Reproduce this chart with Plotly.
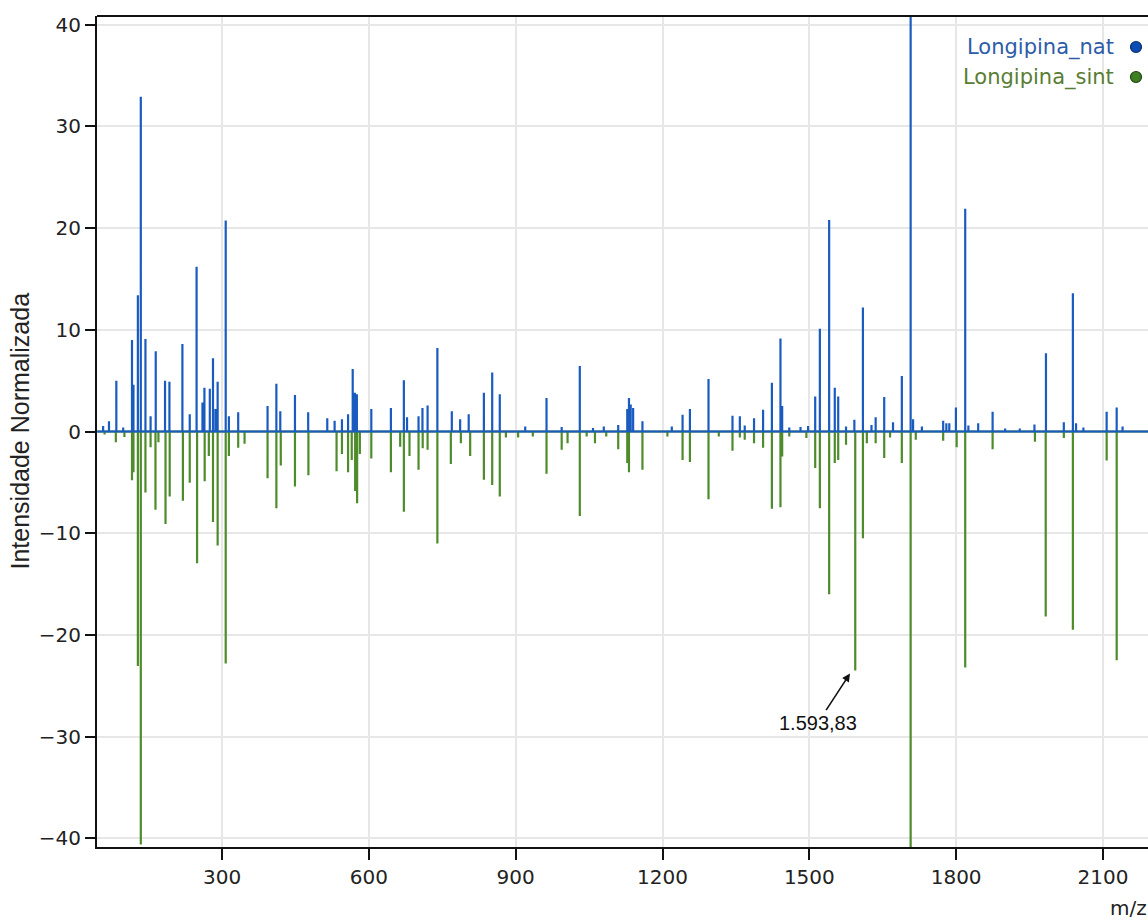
import plotly.graph_objects as go

# ---------------- data ----------------
mz_start, mz_end = 45, 2200

nat_mz = [57, 69, 84, 98, 116, 119, 128, 134, 143.5, 154, 164.5, 183.5, 192.5, 219, 234, 248, 260, 264, 275,
          281.5, 286.5, 291, 307.5, 314, 333, 393, 411, 419, 449, 476, 515, 530, 545, 557.5, 567, 571.5, 575.5,
          605, 645, 671.5, 678, 701.5, 709.5, 720, 740, 769.5, 786.5, 804, 835, 852, 867.5, 919.5, 963, 994,
          1031, 1058, 1080, 1109.5, 1128, 1131.5, 1135, 1140, 1159, 1219, 1241, 1256, 1294, 1343, 1358, 1368,
          1387, 1405.5, 1423.5, 1441, 1444.5, 1459, 1482, 1497.5, 1512, 1521.5, 1540.5, 1552, 1559, 1575, 1592,
          1609.5, 1627, 1635.5, 1653, 1671, 1689, 1707, 1712, 1730, 1773.5, 1780, 1786, 1799.5, 1818.5, 1825,
          1845, 1874.5, 1900, 1930, 1960, 1983.5, 2020, 2038.5, 2045, 2060, 2107.5, 2128, 2140]
nat_int = [0.55, 1.0, 5.0, 0.4, 9.0, 4.6, 13.4, 32.9, 9.1, 1.5, 7.9, 5.0, 4.9, 8.6, 1.7, 16.2, 2.85, 4.3, 4.2,
           7.2, 2.2, 4.9, 20.75, 1.5, 1.9, 2.5, 4.7, 2.0, 3.6, 1.9, 1.3, 1.05, 1.2, 1.7, 6.15, 3.8, 3.65,
           2.2, 2.3, 5.05, 1.4, 1.5, 2.3, 2.55, 8.2, 2.0, 1.2, 1.7, 3.8, 5.8, 3.65, 0.5, 3.3, 0.45,
           6.45, 0.35, 0.5, 0.65, 2.2, 3.3, 2.65, 2.3, 1.0, 0.5, 1.65, 2.2, 5.15, 1.55, 1.5, 0.6,
           1.3, 2.15, 4.8, 9.15, 2.5, 0.4, 0.45, 0.55, 3.45, 10.1, 20.8, 4.3, 3.45, 0.5, 1.15,
           12.2, 0.65, 1.4, 3.4, 0.9, 5.45, 41.0, 1.2, 0.5, 1.05, 0.8, 0.8, 2.35, 21.9, 0.6,
           0.8, 1.95, 0.3, 0.3, 0.7, 7.7, 0.9, 13.6, 0.8, 0.4, 1.95, 2.35, 0.5]

sint_mz = [60, 83, 100.5, 116, 119, 128, 134, 143.5, 154, 164, 170, 184.5, 193, 220, 234, 249, 264.5, 273,
           281.5, 291, 307.5, 314, 333, 346, 393, 411, 420, 449, 476.5, 534, 545, 557.5, 565, 572, 576, 581.6,
           605, 645, 664, 671.5, 683, 701.5, 710, 720, 740, 767.5, 788, 807, 835, 852, 867.5, 880, 905, 935,
           963, 994, 1006, 1031, 1045, 1062, 1085, 1109.5, 1128, 1131.5, 1159, 1210, 1241, 1256, 1294, 1315,
           1343, 1358, 1368, 1387, 1405.5, 1423.5, 1441, 1444.5, 1459, 1494, 1512, 1521.5, 1540.5, 1552, 1559,
           1575, 1593.83, 1609.5, 1617.5, 1635.5, 1653, 1665, 1689, 1707, 1717.5, 1773.5, 1801, 1818.5,
           1874.5, 1961, 1983, 2020, 2038.5, 2107.5, 2128]
sint_int = [-0.3, -1.05, -0.55, -4.8, -4.0, -23.05, -40.6, -6.0, -1.55, -7.7, -1.05, -9.1, -6.4, -6.8, -5.05,
            -12.95, -4.9, -2.4, -8.9, -11.2, -22.8, -2.4, -1.6, -1.2, -4.6, -7.55, -3.35, -5.4, -4.3, -3.9,
            -2.2, -4.0, -2.8, -5.85, -7.05, -2.2, -2.65, -4.0, -1.5, -7.9, -2.4, -3.75, -1.65, -1.8, -11.0,
            -3.2, -1.15, -2.4, -4.75, -5.25, -6.4, -0.6, -0.6, -0.5, -4.15, -1.8, -1.15, -8.3, -0.5, -1.15,
            -0.5, -1.75, -3.1, -4.0, -3.75, -0.5, -2.8, -3.0, -6.65, -0.5, -1.9, -0.6, -0.8, -1.15, -1.6,
            -7.6, -7.45, -2.45, -0.5, -0.65, -3.6, -7.55, -16.0, -3.1, -2.8, -1.3, -23.5, -10.5, -1.15,
            -1.15, -2.6, -0.6, -3.1, -41.0, -0.8, -0.9, -1.55, -23.2, -1.75, -1.0, -18.2, -0.65, -19.5,
            -2.85, -22.5]

x_ticks = [300, 600, 900, 1200, 1500, 1800, 2100]
y_ticks = [-40, -30, -20, -10, 0, 10, 20, 30, 40]

label_mz, label_int, label_text = 1593.83, -23.5, "1.593,83"

BLUE = "#1a5bbf"
GREEN = "#4e8b2b"


def stick_line(mzs, ints):
    xs, ys = [mz_start], [0]
    for m, h in sorted(zip(mzs, ints)):
        xs += [m, m, m]
        ys += [0, h, 0]
    xs.append(mz_end)
    ys.append(0)
    return xs, ys


fig = go.Figure()
sx, sy = stick_line(sint_mz, sint_int)
fig.add_trace(go.Scatter(x=sx, y=sy, mode="lines", name="Longipina_sint",
                         line=dict(color=GREEN, width=2.2), showlegend=False, hoverinfo="skip"))
nx, ny = stick_line(nat_mz, nat_int)
fig.add_trace(go.Scatter(x=nx, y=ny, mode="lines", name="Longipina_nat",
                         line=dict(color=BLUE, width=2.2), showlegend=False, hoverinfo="skip"))

tick_font = dict(family="DejaVu Sans", size=20, color="#222222")

fig.update_layout(
    width=1148, height=922,
    margin=dict(l=97, r=0, t=16, b=75),
    paper_bgcolor="white", plot_bgcolor="white",
    showlegend=False,
    xaxis=dict(range=[44.5, 2192], tickvals=x_ticks, ticks="outside", ticklen=11, tickwidth=2,
               tickcolor="#111", showline=True, linecolor="#111", linewidth=2,
               showgrid=True, gridcolor="#e7e7e7", gridwidth=1.5, zeroline=False,
               tickfont=tick_font),
    yaxis=dict(range=[-40.85, 40.85], tickvals=y_ticks, ticks="outside", ticklen=10, tickwidth=2,
               tickcolor="#111", showline=True, linecolor="#111", linewidth=2,
               showgrid=True, gridcolor="#e7e7e7", gridwidth=1.5, zeroline=False,
               tickfont=tick_font),
)

# top frame line
fig.add_shape(type="line", xref="paper", yref="paper", x0=0, x1=1, y0=1, y1=1,
              line=dict(color="#111", width=2))

# y-axis title
fig.add_annotation(text="Intensidade Normalizada", xref="paper", yref="paper",
                   x=(19 - 97) / 1051, y=0.5, textangle=-90, showarrow=False,
                   xanchor="center", yanchor="middle",
                   font=dict(family="Liberation Sans", size=25, color="#222222"))
# x-axis title
fig.add_annotation(text="m/z", xref="paper", yref="paper",
                   x=(1108 - 97) / 1051, y=(847 - 908) / 831, showarrow=False,
                   xanchor="left", yanchor="middle",
                   font=dict(family="DejaVu Sans", size=20, color="#222222"))

# peak label with arrow
fig.add_annotation(text=label_text, x=1583, y=label_int - 0.3, xref="x", yref="y",
                   showarrow=True, arrowhead=2, arrowsize=1, arrowwidth=1.6, arrowcolor="#111",
                   ax=-32, ay=49, font=dict(family="Liberation Sans", size=20, color="#111"))

# legend (text on left, marker on right)
legend_items = [("Longipina_nat", "#2d5ca8", "#0b4db3", "#06306f", 47),
                ("Longipina_sint", "#587d33", "#3f7e22", "#1f4411", 77)]
for name, tcol, fcol, lcol, py in legend_items:
    fig.add_annotation(text=name, xref="paper", yref="paper", x=(1116 - 97) / 1051,
                       y=(847 - py) / 831, xanchor="right", yanchor="middle", showarrow=False,
                       font=dict(family="DejaVu Sans", size=21, color=tcol))
    fig.add_shape(type="circle", xref="paper", yref="paper", xsizemode="pixel", ysizemode="pixel",
                  xanchor=(1136 - 97) / 1051, yanchor=(847 - py) / 831,
                  x0=-5.5, x1=5.5, y0=-5.5, y1=5.5,
                  fillcolor=fcol, line=dict(color=lcol, width=1.2))

fig.write_html("out.html")
